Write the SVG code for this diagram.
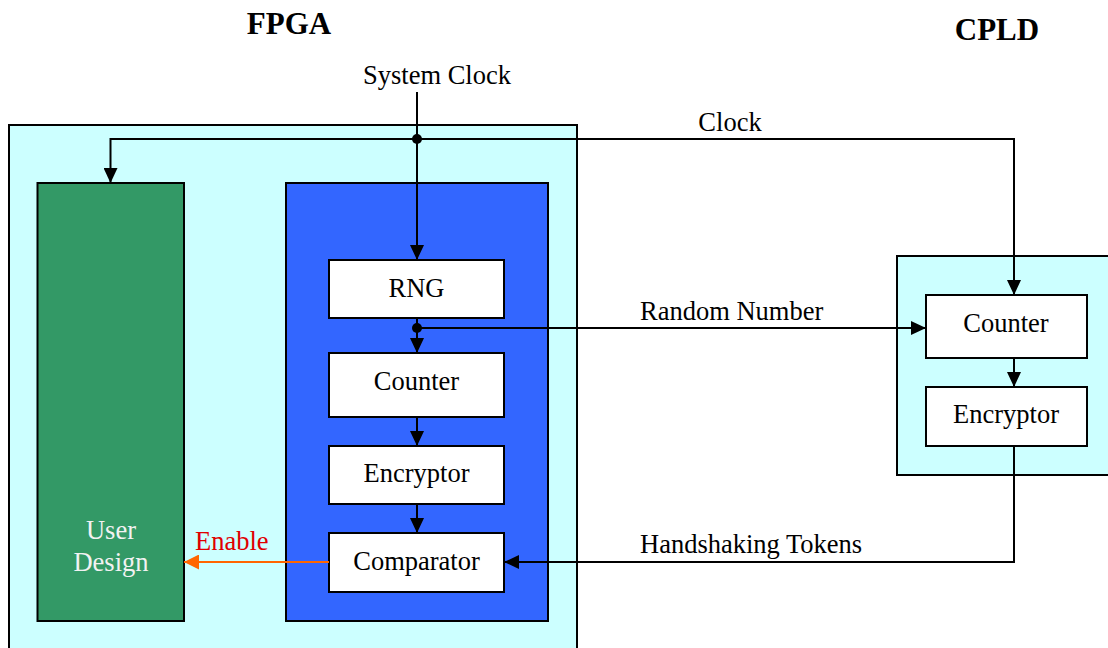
<svg xmlns="http://www.w3.org/2000/svg" width="1108" height="648" viewBox="0 0 1108 648">
<style>
text{font-family:"Liberation Serif","Times New Roman",serif;font-size:26.5px;fill:#000}
.title{font-weight:bold;font-size:31px}
.c{text-anchor:middle}
.box{fill:#fff;stroke:#000;stroke-width:2}
.wire{fill:none;stroke:#000;stroke-width:2}
</style>
<defs>
<marker id="ah" markerWidth="15" markerHeight="14" refX="15" refY="7" orient="auto" markerUnits="userSpaceOnUse">
<path d="M0,0 L15,7 L0,14 Z" fill="#000"/>
</marker>
<marker id="ao" markerWidth="15" markerHeight="15" refX="15" refY="7.5" orient="auto" markerUnits="userSpaceOnUse">
<path d="M0,0 L15,7.5 L0,15 Z" fill="#FF6600"/>
</marker>
</defs>
<text class="title c" x="289" y="34">FPGA</text>
<text class="title c" x="997" y="40">CPLD</text>
<g id="fpga">
<rect x="9" y="125" width="568" height="530" fill="#CCFFFF" stroke="#000" stroke-width="2"/>
</g>
<g id="user-design">
<rect x="37.5" y="183" width="146.5" height="438" fill="#339966" stroke="#000" stroke-width="2"/>
<text class="c" x="111" y="539" style="fill:#F2F2F2">User</text>
<text class="c" x="111" y="571" style="fill:#F2F2F2">Design</text>
</g>
<g id="security-block">
<rect x="286" y="183" width="262" height="438" fill="#3366FF" stroke="#000" stroke-width="2"/>
</g>
<g id="rng">
<rect class="box" x="329" y="260" width="175" height="58"/>
<text class="c" x="416.5" y="297">RNG</text>
</g>
<g id="fpga-counter">
<rect class="box" x="329" y="353" width="175" height="64"/>
<text class="c" x="416.5" y="390">Counter</text>
</g>
<g id="fpga-encryptor">
<rect class="box" x="329" y="446" width="175" height="58"/>
<text class="c" x="416.5" y="482">Encryptor</text>
</g>
<g id="comparator">
<rect class="box" x="329" y="533" width="175" height="59"/>
<text class="c" x="416.5" y="570">Comparator</text>
</g>
<g id="cpld">
<rect x="897" y="256" width="220" height="219" fill="#CCFFFF" stroke="#000" stroke-width="2"/>
</g>
<g id="cpld-counter">
<rect class="box" x="926" y="295" width="161" height="63"/>
<text class="c" x="1006" y="332">Counter</text>
</g>
<g id="cpld-encryptor">
<rect class="box" x="926" y="387" width="161" height="59"/>
<text class="c" x="1006" y="423">Encryptor</text>
</g>
<g id="connectors">
<path class="wire" d="M417,92 L417,260" marker-end="url(#ah)"/>
<path class="wire" d="M417,139 L110.5,139 L110.5,183" marker-end="url(#ah)"/>
<path class="wire" d="M417,139 L1014,139 L1014,295" marker-end="url(#ah)"/>
<circle cx="417" cy="139" r="5" fill="#000"/>
<path class="wire" d="M417,318 L417,353" marker-end="url(#ah)"/>
<path class="wire" d="M417,328 L926,328" marker-end="url(#ah)"/>
<circle cx="417" cy="328" r="5" fill="#000"/>
<path class="wire" d="M417,417 L417,446" marker-end="url(#ah)"/>
<path class="wire" d="M417,504 L417,533" marker-end="url(#ah)"/>
<path class="wire" d="M1014,358 L1014,387" marker-end="url(#ah)"/>
<path class="wire" d="M1014,446 L1014,562 L504,562" marker-end="url(#ah)"/>
<path d="M329,562 L184,562" fill="none" stroke="#FF6600" stroke-width="2" marker-end="url(#ao)"/>
<text class="c" x="437" y="84">System Clock</text>
<text class="c" x="730" y="131">Clock</text>
<text x="640" y="320">Random Number</text>
<text x="640" y="553">Handshaking Tokens</text>
<text x="195" y="550" style="fill:#E00000">Enable</text>
</g>
</svg>
